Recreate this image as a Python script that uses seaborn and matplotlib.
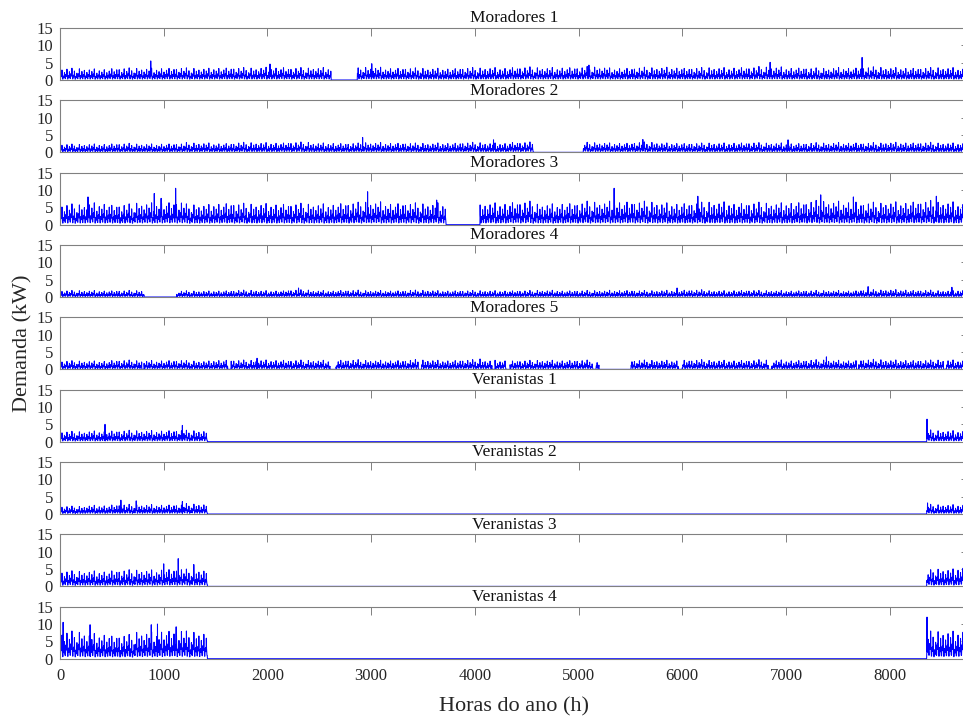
import numpy as np
import pandas as pd
import matplotlib
matplotlib.use("Agg")
import matplotlib.pyplot as plt
import seaborn as sns

# ---------------- data ----------------
titles = ["Moradores 1", "Moradores 2", "Moradores 3", "Moradores 4", "Moradores 5",
          "Veranistas 1", "Veranistas 2", "Veranistas 3", "Veranistas 4"]

x_ticks = [0, 1000, 2000, 3000, 4000, 5000, 6000, 7000, 8000]
y_ticks = [0, 5, 10, 15]
n_hours = 8760
block_hours = 240  # 10-day blocks

# typical daily peak demand (kW) in each 10-day block, estimated from the plot
peaks_m1 = [3.4, 3.3, 3.5, 3.5, 3.6, 3.5, 3.7, 3.6, 3.8, 3.6, 3.7, 3.5, 3.8, 3.6, 3.5, 3.5, 3.6, 3.7, 3.8,
            3.7, 3.8, 3.9, 3.6, 3.7, 3.8, 3.6, 3.7, 3.8, 3.9, 3.7, 3.5, 3.7, 3.8, 3.7, 3.6, 3.7, 3.5]
peaks_m2 = [2.4, 2.5, 2.6, 2.5, 2.6, 2.8, 2.7, 2.9, 2.9, 3.0, 2.8, 2.7, 2.9, 2.8, 2.7, 2.8, 2.9, 2.8, 3.0,
            2.8, 3.0, 2.9, 2.8, 3.0, 2.8, 2.7, 2.8, 2.9, 2.8, 2.7, 2.8, 2.9, 2.8, 3.0, 2.9, 2.8, 2.8]
peaks_m3 = [6.0, 6.5, 6.0, 6.5, 6.8, 6.0, 6.5, 6.2, 6.3, 6.2, 6.2, 6.5, 6.8, 6.5, 6.3, 6.5, 6.0, 6.5, 6.8,
            6.2, 6.5, 6.8, 7.0, 6.8, 6.5, 6.5, 6.8, 6.5, 6.5, 6.8, 7.0, 7.0, 6.5, 6.8, 7.0, 6.8, 6.5]
peaks_m4 = [1.9, 1.9, 1.9, 1.9, 1.8, 1.8, 1.9, 2.0, 1.9, 2.1, 1.9, 2.0, 1.9, 1.9, 2.0, 1.9, 1.9, 1.9, 1.9,
            2.0, 1.9, 1.9, 2.0, 1.9, 2.0, 2.1, 1.9, 2.0, 1.9, 1.9, 1.9, 1.9, 2.1, 2.2, 2.0, 1.9, 2.1]
peaks_m5 = [2.5, 2.5, 2.7, 2.6, 2.7, 2.5, 2.8, 2.7, 2.8, 2.7, 2.7, 2.8, 2.7, 2.7, 2.8, 2.7, 2.8, 2.7, 2.6,
            2.7, 2.7, 2.7, 2.6, 2.7, 2.7, 2.8, 2.7, 2.7, 2.8, 2.7, 2.8, 2.7, 2.9, 2.8, 2.7, 2.8, 2.7]
peaks_v1 = [3.0, 3.2, 3.3, 3.3, 3.4, 3.3] + [0.0] * 28 + [3.4, 3.3, 3.3]
peaks_v2 = [2.3, 2.6, 2.8, 2.8, 2.8, 3.0] + [0.0] * 28 + [2.8, 2.8, 2.8]
peaks_v3 = [4.5, 4.6, 4.8, 4.9, 5.2, 5.0] + [0.0] * 28 + [4.8, 5.2, 5.8]
peaks_v4 = [8.0, 7.5, 7.0, 8.0, 8.5, 8.0] + [0.0] * 28 + [8.0, 8.2, 8.5]

# isolated extreme hours (hour, kW)
spikes_m1 = [(875, 5.5), (2025, 4.6), (3006, 4.7), (5100, 4.3), (6847, 5.1), (7734, 6.5)]
spikes_m2 = [(2918, 4.3), (4180, 3.6), (5620, 3.7), (7020, 3.6)]
spikes_m3 = [(270, 8.0), (909, 9.0), (975, 7.6), (1115, 10.5), (2966, 9.5), (3632, 7.1),
             (5343, 10.5), (6150, 8.2), (7335, 8.6), (7650, 8.0), (8450, 8.2)]
spikes_m4 = [(2300, 2.6), (5950, 2.6), (7792, 3.0), (8600, 2.8)]
spikes_m5 = [(1900, 3.2), (4050, 3.0), (7390, 3.6)]
spikes_v1 = [(434, 5.0), (1180, 4.7), (8360, 6.5)]
spikes_v2 = [(587, 4.0), (735, 3.8), (1180, 3.6), (8365, 3.2)]
spikes_v3 = [(1000, 6.5), (1140, 8.0), (1290, 6.3)]
spikes_v4 = [(30, 10.5), (290, 9.8), (880, 9.8), (940, 10.0), (1120, 9.2), (8360, 12.0)]

# hours with no occupancy (start hour, end hour)
off_m1 = [(2613, 2867)]
off_m2 = [(4564, 5046)]
off_m3 = [(3722, 4050)]
off_m4 = [(810, 1125)]
off_m5 = [(788, 810), (1617, 1649), (2604, 2662), (3455, 3488), (4166, 4195), (4300, 4340),
          (5137, 5169), (5198, 5506), (5962, 6000), (6830, 6862), (7680, 7700), (8520, 8545)]
off_v = [(1421, 8357)]

# typical daily shape (fraction of the daily peak) and day-to-day factors (cycled by day)
daily_profile = [0.18, 0.14, 0.12, 0.12, 0.12, 0.15, 0.30, 0.50, 0.42, 0.36, 0.40, 0.45,
                 0.55, 0.48, 0.38, 0.34, 0.40, 0.52, 0.62, 1.00, 0.66, 0.50, 0.40, 0.26]
day_factor = [0.85, 0.62, 0.92, 0.70, 1.00, 0.76, 0.58, 0.95, 0.72, 0.82, 0.66, 0.88,
              0.74, 0.97, 0.60, 0.80, 0.69, 0.90, 0.64, 0.78, 0.93, 0.68, 0.84]

series_peaks = [peaks_m1, peaks_m2, peaks_m3, peaks_m4, peaks_m5, peaks_v1, peaks_v2, peaks_v3, peaks_v4]
series_spikes = [spikes_m1, spikes_m2, spikes_m3, spikes_m4, spikes_m5,
                 spikes_v1, spikes_v2, spikes_v3, spikes_v4]
series_off = [off_m1, off_m2, off_m3, off_m4, off_m5, off_v, off_v, off_v, off_v]

# ---------------- build hourly series ----------------
hours = np.arange(n_hours)
blk = hours // block_hours
dcyc = (hours // 24) % len(day_factor)
hod = hours % 24

frames = []
for t, pk, sp, off in zip(titles, series_peaks, series_spikes, series_off):
    pk = np.asarray(pk)
    vals = pk[blk] * np.asarray(day_factor)[dcyc] * np.asarray(daily_profile)[hod]
    for h, v in sp:
        vals[h] = v
    for a, b in off:
        vals[(hours >= a) & (hours < b)] = 0.0
    frames.append(pd.DataFrame({"hora": hours, "demanda": vals, "serie": t}))
df = pd.concat(frames, ignore_index=True)

# ---------------- plot ----------------
sns.set_theme(style="white")
plt.rcParams["font.family"] = ["Liberation Serif", "DejaVu Serif"]

W, H = 963, 722
fig = plt.figure(figsize=(W / 100, H / 100), dpi=100)

left = 60 / W
width = 908.5 / W
top0 = 28.0
step = 72.34
ax_h = 52.0

for i, t in enumerate(titles):
    top = top0 + i * step
    ax = fig.add_axes([left, 1 - (top + ax_h) / H, width, ax_h / H])
    sub = df[df["serie"] == t]
    sns.lineplot(data=sub, x="hora", y="demanda", ax=ax, color="#0000FF",
                 linewidth=0.75, estimator=None, sort=False)
    ax.set_xlim(0, n_hours)
    ax.set_ylim(0, 15)
    ax.set_xticks(x_ticks)
    ax.set_yticks(y_ticks)
    ax.tick_params(direction="in", top=True, right=True, length=6, width=0.7,
                   colors="#808080", labelcolor="#262626", labelsize=12, pad=5)
    ax.tick_params(axis="x", pad=7)
    if i < len(titles) - 1:
        ax.set_xticklabels([])
    for s in ax.spines.values():
        s.set_color("#808080")
        s.set_linewidth(0.8)
    ax.set_xlabel("")
    ax.set_ylabel("")
    ax.set_title(t, fontsize=12.5, pad=4, color="#111111")

fig.text(514 / W, 1 - 707 / H, "Horas do ano (h)", ha="center", va="center",
         fontsize=16, color="#262626")
fig.text(23 / W, 1 - 343 / H, "Demanda (kW)", ha="center", va="center",
         rotation=90, fontsize=16, color="#262626")

fig.savefig("out.png", dpi=100)
